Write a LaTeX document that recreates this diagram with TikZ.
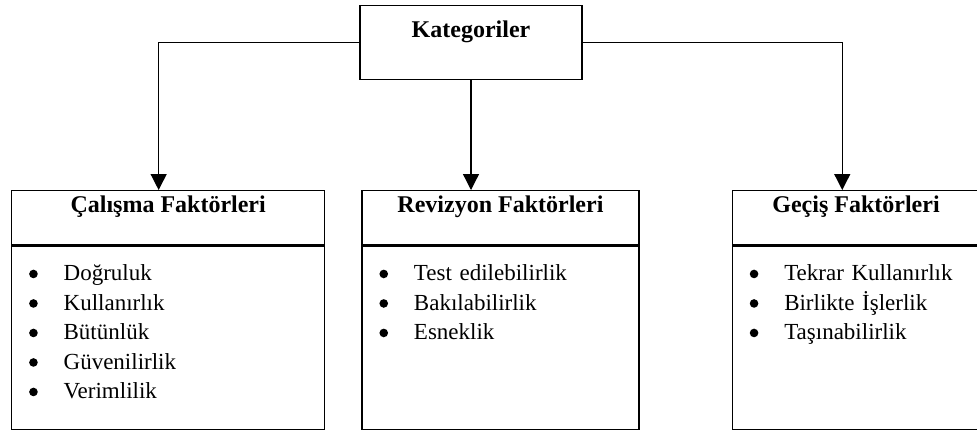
\documentclass[tikz,border=0pt]{standalone}
\usepackage{fontspec}
\setmainfont{Liberation Serif}
\usetikzlibrary{positioning,arrows.meta}
\setlength\parindent{0pt}
\tikzset{
  >={Triangle[length=16pt,width=16pt]},
  catbox/.style={draw,line width=1.3pt,minimum width=222pt,inner xsep=0pt,
    inner ysep=5pt,text height=27pt,text depth=37pt,
    font=\fontsize{24}{28}\selectfont\bfseries},
  headbox/.style={draw,line width=1.3pt,inner xsep=0pt,inner ysep=5pt,
    text height=17pt,text depth=27pt,font=\fontsize{24}{28}\selectfont\bfseries},
  listbox/.style={draw,line width=1.3pt,inner xsep=17.5pt,inner ysep=0pt,
    text height=35pt,text depth=149pt,align=left,
    font=\fontsize{23}{29.5}\selectfont},
  flow/.style={->,line width=1.3pt},
}
\newcommand\factorlist[1]{\begin{tabular}[t]{@{}p{34.5pt}@{}l@{}}#1\end{tabular}}
\newcommand\itm[1]{\tikz[baseline=-7pt]\fill (0pt,0pt) circle (4.3pt); & #1\\}

\begin{document}
\begin{tikzpicture}[x=1pt,y=-1pt]
  \useasboundingbox (0,0) rectangle (977,429);
  \node[catbox,anchor=north] (kat) at (471,5) {Kategoriler};

  \node[headbox,minimum width=313pt,anchor=north west] (calis) at (11,190) {Çalışma Faktörleri};
  \node[headbox,minimum width=277pt,right=36pt of calis] (rev) {Revizyon Faktörleri};
  \node[headbox,minimum width=247.5pt,right=92pt of rev] (gecis) {Geçiş Faktörleri};

  \node[listbox,text width=278pt,below=0pt of calis] (calisList)
    {\factorlist{\itm{Doğruluk}\itm{Kullanırlık}\itm{Bütünlük}\itm{Güvenilirlik}\itm{Verimlilik}}};
  \node[listbox,text width=242pt,below=0pt of rev] (revList)
    {\factorlist{\itm{Test edilebilirlik}\itm{Bakılabilirlik}\itm{Esneklik}}};
  \node[listbox,text width=212.5pt,below=0pt of gecis] (gecisList)
    {\factorlist{\itm{Tekrar Kullanırlık}\itm{Birlikte İşlerlik}\itm{Taşınabilirlik}}};

  \draw[flow] (kat.west) -| ([xshift=-9.5pt]calis.north);
  \draw[flow] (kat.south) -- (kat.south |- rev.north);
  \draw[flow] (kat.east) -| ([xshift=-13.75pt]gecis.north);
\end{tikzpicture}
\end{document}
